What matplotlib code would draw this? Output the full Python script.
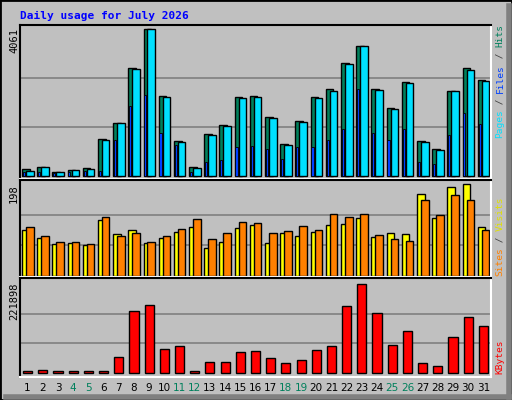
import matplotlib
matplotlib.use("Agg")
import matplotlib.pyplot as plt
import numpy as np

days = list(range(1, 32))
weekend = [4, 5, 11, 12, 18, 19, 25, 26]
hits = [190, 250, 110, 160, 210, 1030, 1460, 2980, 4061, 2200, 960, 250, 1160, 1410, 2180, 2210, 1640, 880, 1520, 2180, 2400, 3120, 3600, 2400, 1880, 2600, 960, 750, 2360, 2990, 2650]
files = [140, 250, 110, 160, 190, 990, 1460, 2960, 4061, 2180, 940, 220, 1130, 1380, 2160, 2180, 1610, 860, 1490, 2150, 2350, 3090, 3580, 2380, 1850, 2570, 940, 720, 2340, 2930, 2620]
pages = [110, 120, 90, 100, 130, 140, 1000, 1920, 2240, 1190, 870, 120, 400, 440, 800, 830, 750, 480, 800, 800, 1000, 1300, 2400, 1200, 1000, 1300, 390, 330, 1130, 1740, 1440]
sites = [99, 82, 69, 71, 67, 120, 90, 99, 71, 82, 95, 106, 60, 73, 103, 110, 71, 93, 86, 95, 110, 112, 125, 84, 93, 90, 177, 125, 192, 198, 106]
visits = [106, 86, 73, 73, 69, 127, 86, 92, 73, 86, 101, 123, 80, 93, 116, 114, 93, 97, 108, 99, 134, 127, 134, 88, 80, 75, 164, 131, 175, 164, 99]
kbytes = [5000, 7500, 5000, 5000, 5000, 5000, 40000, 155000, 170000, 60000, 67000, 5000, 27500, 27500, 52000, 55000, 37500, 25000, 32500, 57500, 67500, 167500, 221898, 150000, 70000, 105000, 25000, 17500, 90000, 140000, 117500]
title = "Daily usage for July 2026"

W, H = 512, 400
fig = plt.figure(figsize=(W / 100, H / 100), dpi=100)
fig.patch.set_facecolor("#c0c0c0")
mono = "DejaVu Sans Mono"

fig.add_artist(plt.Rectangle((0, 0), 1, 1, transform=fig.transFigure, fill=False, ec="black", lw=2))
fig.add_artist(plt.Line2D([6 / W, 1 - 3 / W], [3 / H, 3 / H], transform=fig.transFigure, color="#808080", lw=4))
fig.add_artist(plt.Line2D([1 - 3 / W, 1 - 3 / W], [3 / H, 1 - 6 / H], transform=fig.transFigure, color="#808080", lw=4))

x0, x1 = 20, 491

def panel(top, bot, dtop, dbot, vmax):
    ax = fig.add_axes([x0 / W, 1 - bot / H, (x1 - x0) / W, (bot - top) / H])
    ax.set_facecolor("#c0c0c0")
    span = dbot - dtop
    ax.set_ylim(-(bot - dbot) / span * vmax, vmax + (dtop - top) / span * vmax)
    ax.set_xlim(0.5, 31.5)
    for f in (1 / 3, 2 / 3):
        ax.axhline(vmax * f, color="#808080", lw=1.2, zorder=0)
    ax.set_xticks([]); ax.set_yticks([])
    ax.spines["left"].set_color("black"); ax.spines["top"].set_color("black")
    ax.spines["right"].set_color("white"); ax.spines["bottom"].set_color("white")
    for s in ax.spines.values():
        s.set_linewidth(1.5)
    return ax

d = np.array(days)
ax1 = panel(25, 179, 29, 176, max(hits))
ax1.bar(d - 0.12, hits, width=0.5, color="#00805c", ec="black", lw=1)
ax1.bar(d - 0.25, pages, width=0.14, color="#0040ff", ec="black", lw=0.6)
ax1.bar(d + 0.14, files, width=0.5, color="#00e0ff", ec="black", lw=1)

ax2 = panel(180, 277, 184, 276, max(sites))
ax2.bar(d - 0.12, sites, width=0.5, color="#ffff00", ec="black", lw=1)
ax2.bar(d + 0.14, visits, width=0.5, color="#ff8000", ec="black", lw=1)

ax3 = panel(278, 377, 284, 373, max(kbytes))
ax3.bar(d, kbytes, width=0.6, color="#ff0000", ec="black", lw=1)

fig.text(20 / W, 1 - 16 / H, title, color="#0000ff", fontsize=8, fontweight="bold", family=mono, va="center")

for val, ytop in ((max(hits), 28), (max(sites), 184), (max(kbytes), 282)):
    fig.text(14 / W, 1 - ytop / H, str(val), rotation=90, fontsize=7.5, family=mono, ha="center", va="top")

slot = (x1 - x0) / 31
for dd in days:
    fig.text((x0 + (dd - 0.5) * slot) / W, 1 - 388 / H, str(dd), fontsize=7.5, ha="center", va="center",
             color="#00805c" if dd in weekend else "black")

fs = 6.8
cw = 0.602 * fs * 100 / 72
def vlabel(parts, ybottom):
    y = ybottom
    for txt, col in parts:
        fig.text(500 / W, 1 - y / H, txt, rotation=90, fontsize=fs, family=mono, color=col,
                 ha="center", va="bottom")
        y -= len(txt) * cw

vlabel([("Pages", "#00e0ff"), (" / ", "#404040"), ("Files", "#0040ff"), (" / ", "#404040"), ("Hits", "#00805c")], 138)
vlabel([("Sites", "#ff8000"), (" / ", "#404040"), ("Visits", "#e0e000")], 276)
vlabel([("KBytes", "#ff0000")], 374)

fig.savefig("out.png", dpi=100, facecolor=fig.get_facecolor())
